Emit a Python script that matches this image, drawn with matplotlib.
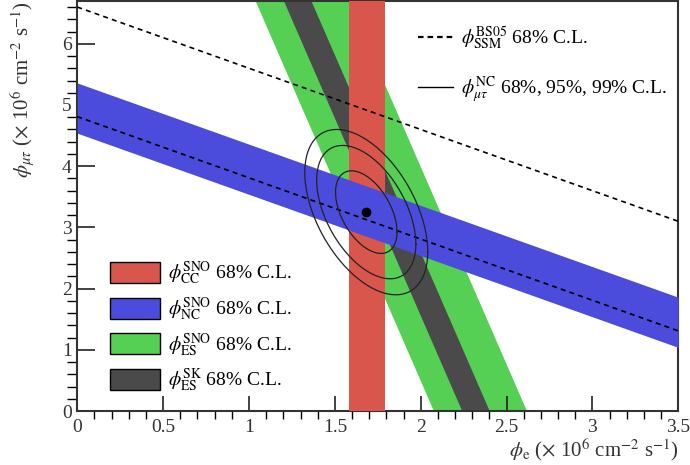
import numpy as np
import matplotlib
matplotlib.use("Agg")
import matplotlib.pyplot as plt
from matplotlib.patches import Patch
from matplotlib.lines import Line2D
from matplotlib.ticker import MultipleLocator, FuncFormatter

plt.rcParams['font.family'] = ['Liberation Serif', 'DejaVu Serif']
plt.rcParams['mathtext.fontset'] = 'stix'

# flux bands (units of 1e6 cm^-2 s^-1)
cc_band = [1.58, 1.79]          # SNO CC, phi_e only
nc_band = [4.54, 5.36]          # SNO NC, phi_e + phi_mutau
es_sno_band = [2.075, 2.617]    # SNO ES, phi_e + r*phi_mutau
es_sk_band = [2.24, 2.40]       # SK ES
es_ratio = 0.155
ssm_band = [4.81, 6.60]         # BS05 SSM total flux

# best fit point and its uncertainties
fit_center = [1.683, 3.25]
fit_sigma = [0.118, 0.445]
fit_rho = -0.48
chi2_levels = [2.30, 5.99, 9.21]   # 68%, 95%, 99% for 2 dof

col_cc = '#d9564c'
col_nc = '#4b4bdc'
col_es = '#55d055'
col_sk = '#4a4a4a'

fig = plt.figure(figsize=(6.9, 4.65), dpi=100)
ax = fig.add_axes([0.112, 0.116, 0.871, 0.882])
xmax, ymax = 3.5, 6.7

y = np.linspace(0, ymax, 200)
x = np.linspace(0, xmax, 200)

ax.fill_betweenx(y, es_sno_band[0] - es_ratio * y, es_sno_band[1] - es_ratio * y,
                 color=col_es, lw=0, zorder=1)
ax.fill_betweenx(y, es_sk_band[0] - es_ratio * y, es_sk_band[1] - es_ratio * y,
                 color=col_sk, lw=0, zorder=2)
ax.axvspan(cc_band[0], cc_band[1], color=col_cc, lw=0, zorder=3)
ax.fill_between(x, nc_band[0] - x, nc_band[1] - x, color=col_nc, lw=0, zorder=4)

for s in ssm_band:
    ax.plot(x, s - x, color='black', ls=(0, (3, 2.5)), lw=1.2, zorder=5)

# confidence contours
cov = np.array([[fit_sigma[0] ** 2, fit_rho * fit_sigma[0] * fit_sigma[1]],
                [fit_rho * fit_sigma[0] * fit_sigma[1], fit_sigma[1] ** 2]])
L = np.linalg.cholesky(cov)
t = np.linspace(0, 2 * np.pi, 300)
circ = np.vstack([np.cos(t), np.sin(t)])
for c2 in chi2_levels:
    pts = L @ circ * np.sqrt(c2)
    ax.plot(fit_center[0] + pts[0], fit_center[1] + pts[1], color='#222222', lw=0.9, zorder=6)
ax.plot(fit_center[0], fit_center[1], 'o', color='black', ms=6, zorder=7)

ax.set_xlim(0, xmax)
ax.set_ylim(0, ymax)

ax.xaxis.set_major_locator(MultipleLocator(0.5))
ax.xaxis.set_minor_locator(MultipleLocator(0.1))
ax.yaxis.set_major_locator(MultipleLocator(1))
ax.yaxis.set_minor_locator(MultipleLocator(0.2))
fmt = FuncFormatter(lambda v, p: '%g' % v)
ax.xaxis.set_major_formatter(fmt)
ax.yaxis.set_major_formatter(fmt)
ax.tick_params(axis='both', direction='in', labelsize=14, width=1.2, colors='#222222',
               labelcolor='#333333')
ax.tick_params(axis='x', which='major', length=11, pad=6)
ax.tick_params(axis='x', which='minor', length=6, width=1)
ax.tick_params(axis='y', which='major', length=13, pad=4)
ax.tick_params(axis='y', which='minor', length=7, width=1)
for sp in ax.spines.values():
    sp.set_linewidth(1.5)
    sp.set_color('#333333')

ax.set_xlabel(r'$\phi_{\rm e}$ ($\times$ 10$^{6}$ cm$^{-2}$ s$^{-1}$)', loc='right',
              fontsize=15, labelpad=0, color='#333333')
ax.set_ylabel(r'$\phi_{\mu\tau}$ ($\times$ 10$^{6}$ cm$^{-2}$ s$^{-1}$)', loc='top',
              fontsize=15, labelpad=18, color='#333333')

band_handles = [Patch(facecolor=c, edgecolor='black', lw=1) for c in (col_cc, col_nc, col_es, col_sk)]
band_labels = [r'$\phi^{\rm SNO}_{\rm CC}$ 68% C.L.',
               r'$\phi^{\rm SNO}_{\rm NC}$ 68% C.L.',
               r'$\phi^{\rm SNO}_{\rm ES}$ 68% C.L.',
               r'$\phi^{\rm SK}_{\rm ES}$ 68% C.L.']
leg1 = ax.legend(band_handles, band_labels, loc='lower left', bbox_to_anchor=(0.025, -0.002),
                 frameon=False, fontsize=14, handlelength=2.6, handleheight=1.3,
                 labelspacing=0.42, handletextpad=0.4)
ax.add_artist(leg1)

line_handles = [Line2D([], [], color='black', ls=(0, (2.5, 1.8)), lw=1.6),
                Line2D([], [], color='black', lw=1)]
line_labels = [r'$\phi^{\rm BS05}_{\rm SSM}$ 68% C.L.',
               r'$\phi^{\rm NC}_{\mu\tau}$ 68%, 95%, 99% C.L.']
ax.legend(line_handles, line_labels, loc='upper left', bbox_to_anchor=(0.537, 0.985),
          frameon=False, fontsize=14, handlelength=1.8, labelspacing=1.15, handletextpad=0.45)

fig.savefig('out.png', dpi=100)
